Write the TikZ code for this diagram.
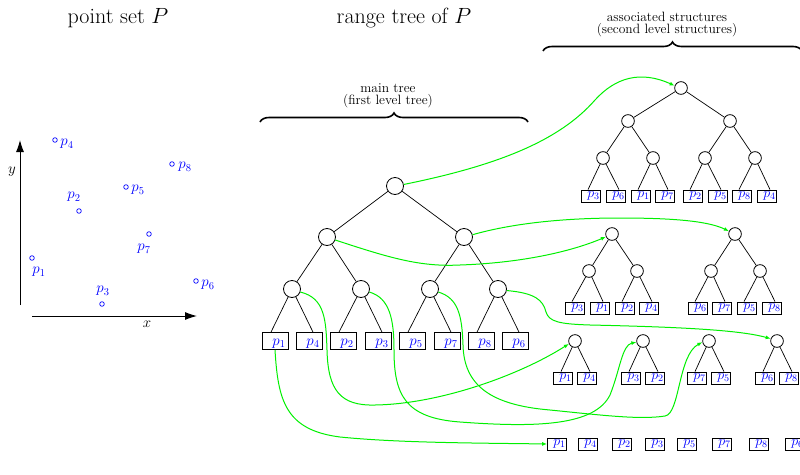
\RequirePackage{fix-cm}
\documentclass[tikz,border=0pt]{standalone}
\usetikzlibrary{arrows.meta,decorations.pathreplacing}
\begin{document}
\begin{tikzpicture}[x=1pt,y=-1pt,
  every node/.style={inner sep=0pt},
  knot/.style={circle,draw,fill=white,minimum size=17pt,line width=0.8pt},
  sknot/.style={circle,draw,fill=white,minimum size=12.7pt,line width=0.8pt},
  leaf/.style={draw,fill=white,minimum width=26pt,minimum height=17pt,line width=0.8pt,
    text=blue,text height=9pt,text depth=0pt,font=\fontsize{15}{15}\selectfont},
  sleaf/.style={draw,fill=white,minimum width=19pt,minimum height=12pt,line width=0.8pt,
    text=blue,font=\fontsize{14}{14}\selectfont},
  branch/.style={line width=0.7pt},
  link/.style={draw={rgb,255:red,0;green,240;blue,0},line width=1pt,-{Latex[length=5pt,width=4pt]}},
  pt/.style={circle,draw=blue,minimum size=4.6pt,line width=0.7pt},
  ptlabel/.style={text=blue,font=\fontsize{15}{15}\selectfont},
  axis/.style={line width=1pt,-{Latex[length=12pt,width=8pt]}},
  title/.style={font=\fontsize{22}{26}\selectfont},
  caption/.style={font=\fontsize{13.5}{12}\selectfont,align=center},
  bracket/.style={decorate,decoration={brace,amplitude=9pt},line width=1.6pt}
]
\useasboundingbox (0,0) rectangle (800,474);

% ---------- headings ----------
\node[title] (t1) at (118,18) {point set $P$};
\node[title] (t2) at (404,18) {range tree of $P$};
\node[caption] (c1) at (388,96) {main tree\\(first level tree)};
\node[caption] (c2) at (667,25) {associated structures\\(second level structures)};
\draw[bracket] (260,122) -- (528,122);
\draw[bracket] (543,51) -- (802,51);

% ---------- point set ----------
\coordinate (y0) at (20,305);
\coordinate (y1) at (20,140);
\coordinate (x0) at (32,316);
\coordinate (x1) at (197,316);
\draw[axis] (y0) -- (y1);
\draw[axis] (x0) -- (x1);
\node[font=\fontsize{15}{15}\selectfont] (ylab) at (12,172) {$y$};
\node[font=\fontsize{15}{15}\selectfont] (xlab) at (147,324) {$x$};

\node[pt] (P1) at (32,258) {};
\node[pt] (P2) at (79,211) {};
\node[pt] (P3) at (102,304) {};
\node[pt] (P4) at (55,140) {};
\node[pt] (P5) at (126,187) {};
\node[pt] (P6) at (196,281) {};
\node[pt] (P7) at (149,234) {};
\node[pt] (P8) at (172,164) {};
\node[ptlabel] (L1) at (39,272) {$p_1$};
\node[ptlabel] (L2) at (74,197) {$p_2$};
\node[ptlabel] (L3) at (103,291) {$p_3$};
\node[ptlabel] (L4) at (67,144) {$p_4$};
\node[ptlabel] (L5) at (138,190) {$p_5$};
\node[ptlabel] (L6) at (208,285) {$p_6$};
\node[ptlabel] (L7) at (144,249) {$p_7$};
\node[ptlabel] (L8) at (185,167) {$p_8$};

% ---------- main tree ----------
\node[knot] (r) at (395,186) {};
\node[knot] (a) at (327,237) {};
\node[knot] (b) at (464,237) {};
\node[knot] (a1) at (292,289) {};
\node[knot] (a2) at (361,289) {};
\node[knot] (b1) at (430,289) {};
\node[knot] (b2) at (498,289) {};
\foreach \n/\x/\t in {1/275/1,2/309/4,3/343/2,4/378/3,5/412/5,6/447/7,7/481/8,8/515/6}
  \node[leaf] (l\n) at (\x,341) {\kern8pt$p_{\t}$};
\draw[branch] (r) -- (a) (r) -- (b) (a) -- (a1) (a) -- (a2) (b) -- (b1) (b) -- (b2);
\draw[branch] (a1) -- ([xshift=-4pt]l1.north) (a1) -- ([xshift=4pt]l2.north)
              (a2) -- ([xshift=-4pt]l3.north) (a2) -- ([xshift=4pt]l4.north)
              (b1) -- ([xshift=-4pt]l5.north) (b1) -- ([xshift=4pt]l6.north)
              (b2) -- ([xshift=-4pt]l7.north) (b2) -- ([xshift=4pt]l8.north);

% ---------- associated structure of the root ----------
\node[sknot] (T) at (681,88) {};
\node[sknot] (T1) at (628,121) {};
\node[sknot] (T2) at (730,121) {};
\node[sknot] (T11) at (603,158) {};
\node[sknot] (T12) at (653,158) {};
\node[sknot] (T21) at (705,158) {};
\node[sknot] (T22) at (755,158) {};
\foreach \n/\x/\t in {1/591/3,2/616/6,3/641/1,4/665/7,5/693/2,6/718/5,7/742/8,8/767/4}
  \node[sleaf] (t\n) at (\x,196) {\kern5pt$p_{\t}$};
\draw[branch] (T) -- (T1) (T) -- (T2) (T1) -- (T11) (T1) -- (T12) (T2) -- (T21) (T2) -- (T22);
\draw[branch] (T11) -- ([xshift=-3pt]t1.north) (T11) -- ([xshift=3pt]t2.north)
              (T12) -- ([xshift=-3pt]t3.north) (T12) -- ([xshift=3pt]t4.north)
              (T21) -- ([xshift=-3pt]t5.north) (T21) -- ([xshift=3pt]t6.north)
              (T22) -- ([xshift=-3pt]t7.north) (T22) -- ([xshift=3pt]t8.north);

% ---------- associated structures of the second level ----------
\node[sknot] (M) at (612,234) {};
\node[sknot] (M1) at (589,271) {};
\node[sknot] (M2) at (637,271) {};
\foreach \n/\x/\t in {1/575/3,2/600/1,3/625/2,4/649/4}
  \node[sleaf] (m\n) at (\x,308) {\kern5pt$p_{\t}$};
\draw[branch] (M) -- (M1) (M) -- (M2)
              (M1) -- ([xshift=-3pt]m1.north) (M1) -- ([xshift=3pt]m2.north)
              (M2) -- ([xshift=-3pt]m3.north) (M2) -- ([xshift=3pt]m4.north);

\node[sknot] (N) at (735,234) {};
\node[sknot] (N1) at (711,271) {};
\node[sknot] (N2) at (760,271) {};
\foreach \n/\x/\t in {1/698/6,2/722/7,3/747/5,4/772/8}
  \node[sleaf] (n\n) at (\x,308) {\kern5pt$p_{\t}$};
\draw[branch] (N) -- (N1) (N) -- (N2)
              (N1) -- ([xshift=-3pt]n1.north) (N1) -- ([xshift=3pt]n2.north)
              (N2) -- ([xshift=-3pt]n3.north) (N2) -- ([xshift=3pt]n4.north);

% ---------- associated structures of the third level ----------
\foreach \k/\x/\u/\v in {1/575/1/4,2/643/3/2,3/709/7/5,4/777/6/8}{
  \node[sknot] (B\k) at (\x,341) {};
  \node[sleaf] (B\k a) at (\x-12,378) {\kern5pt$p_{\u}$};
  \node[sleaf] (B\k b) at (\x+12,378) {\kern5pt$p_{\v}$};
  \draw[branch] (B\k) -- ([xshift=-2pt]B\k a.north) (B\k) -- ([xshift=3pt]B\k b.north);
}

% ---------- associated structures of the leaves ----------
\foreach \n/\x/\t in {1/557/1,2/588/4,3/622/2,4/655/3,5/687/5,6/722/7,7/759/8,8/795/6}
  \node[sleaf] (R\n) at (\x,444) {\kern5pt$p_{\t}$};

% ---------- pointers to associated structures ----------
\draw[link] (r.10) .. controls (500,165) and (560,140) .. (595,100)
                   .. controls (615,78) and (640,70) .. (T.160);
\draw[link] (a.-20) .. controls (390,258) and (420,267) .. (460,265)
                    .. controls (520,263) and (570,252) .. (M.205);
\draw[link] (b.15) .. controls (510,224) and (560,218) .. (620,218)
                   .. controls (680,218) and (710,222) .. (N.155);
\draw[link] (a1.-20) .. controls (325,298) and (326,320) .. (327,350)
                     .. controls (328,390) and (340,406) .. (375,405)
                     .. controls (440,404) and (520,375) .. (B1.205);
\draw[link] (a2.-20) .. controls (390,298) and (394,320) .. (394,350)
                     .. controls (394,395) and (405,418) .. (460,422)
                     .. controls (540,428) and (595,425) .. (610,395)
                     .. controls (620,370) and (622,345) .. (B2.190);
\draw[link] (b1.-20) .. controls (458,298) and (462,315) .. (463,345)
                     .. controls (464,385) and (490,405) .. (550,410)
                     .. controls (600,415) and (640,420) .. (665,416)
                     .. controls (680,414) and (678,355) .. (B3.190);
\draw[link] (b2.-10) .. controls (535,293) and (543,300) .. (546,312)
                     .. controls (549,322) and (560,324) .. (590,325)
                     .. controls (680,327) and (740,330) .. (B4.160);
\draw[link] (l1.south) .. controls (278,400) and (285,430) .. (340,437)
                       .. controls (400,443) and (480,443) .. (R1.west);
\end{tikzpicture}
\end{document}
